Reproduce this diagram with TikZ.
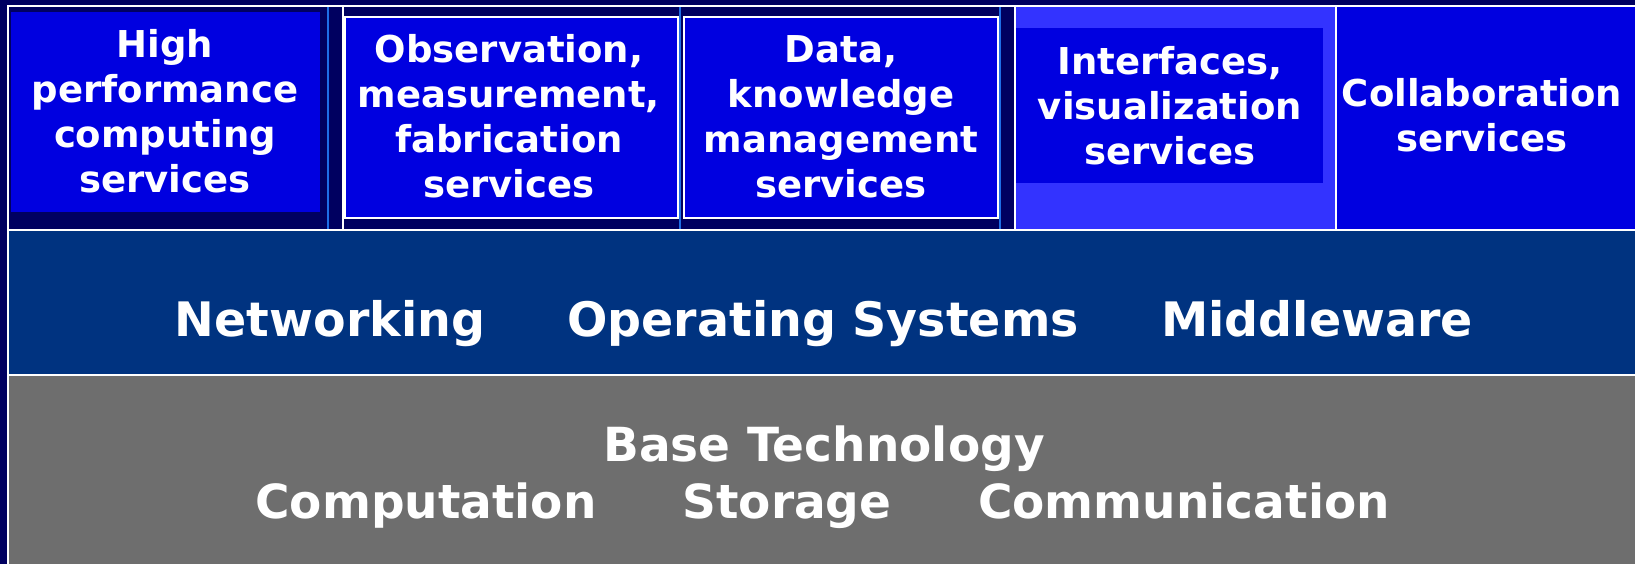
\documentclass[tikz,border=0pt]{standalone}
\usepackage{fontspec}
\newfontfamily\lblfont{DejaVu Sans}
\definecolor{navybg}{HTML}{000060}
\definecolor{cellblue}{HTML}{0000E0}
\definecolor{lightblue}{HTML}{3333FF}
\definecolor{midband}{HTML}{003380}
\definecolor{baseband}{HTML}{6E6E6E}
\definecolor{sepblue}{HTML}{1E6EE6}
\begin{document}
\begin{tikzpicture}[x=1pt,y=-1pt,
  topline/.style={font=\lblfont\bfseries\fontsize{37}{45}\selectfont, text=white, anchor=base, inner sep=0pt},
  midline/.style={font=\lblfont\bfseries\fontsize{47.5}{57}\selectfont, text=white, anchor=base, inner sep=0pt},
  bigline/.style={font=\lblfont\bfseries\fontsize{47}{57}\selectfont, text=white, anchor=base, inner sep=0pt},
  rulew/.style={draw=white, line width=2pt},
  sepb/.style={draw=sepblue, line width=2pt},
  cellbox/.style={fill=cellblue, draw=white, line width=1.5pt}]
\useasboundingbox (0,0) rectangle (1635,564);
% background and bands
\fill[navybg] (0,0) rectangle (1635,564);
\fill[midband] (8,230) rectangle (1635,375);
\fill[baseband] (8,375) rectangle (1635,564);
% top row cells
\fill[cellblue] (11,12) rectangle (320,212);
\filldraw[cellbox] (345,17) rectangle (678,218);
\filldraw[cellbox] (684,17) rectangle (998,218);
\fill[lightblue] (1016,7) rectangle (1335,229);
\fill[cellblue] (1016,28) rectangle (1323,183);
\fill[cellblue] (1337,7) rectangle (1635,229);
% blue separators
\draw[sepb] (328,7) -- (328,230);
\draw[sepb] (680,7) -- (680,230);
\draw[sepb] (1000,7) -- (1000,230);
% white rules
\draw[rulew] (7,6) -- (1635,6);
\draw[rulew] (8,6) -- (8,564);
\draw[rulew] (8,230) -- (1635,230);
\draw[rulew] (8,375) -- (1635,375);
\draw[rulew] (343,6) -- (343,230);
\draw[rulew] (1015,6) -- (1015,230);
\draw[rulew] (1336,6) -- (1336,230);
% cell 1
\node[topline] (hpc1) at (165,58) {High};
\node[topline] (hpc2) at (165,103) {performance};
\node[topline] (hpc3) at (165,148) {computing};
\node[topline] (hpc4) at (165,193) {services};
% cell 2
\node[topline] (obs1) at (509,63) {Observation,};
\node[topline] (obs2) at (509,108) {measurement,};
\node[topline] (obs3) at (509,153) {fabrication};
\node[topline] (obs4) at (509,198) {services};
% cell 3
\node[topline] (dat1) at (841,63) {Data,};
\node[topline] (dat2) at (841,108) {knowledge};
\node[topline] (dat3) at (841,153) {management};
\node[topline] (dat4) at (841,198) {services};
% cell 4
\node[topline] (int1) at (1170,75) {Interfaces,};
\node[topline] (int2) at (1170,120) {visualization};
\node[topline] (int3) at (1170,165) {services};
% cell 5
\node[topline] (col1) at (1482,107) {Collaboration};
\node[topline] (col2) at (1482,152) {services};
% middle band
\node[midline] (net) at (330,336) {Networking};
\node[midline] (ops) at (823,336) {Operating Systems};
\node[midline] (mid) at (1317,336) {Middleware};
% base band
\node[bigline] (base) at (824,461) {Base Technology};
\node[bigline] (comp) at (426,518) {Computation};
\node[bigline] (stor) at (787,518) {Storage};
\node[bigline] (comm) at (1184,518) {Communication};
\end{tikzpicture}
\end{document}
